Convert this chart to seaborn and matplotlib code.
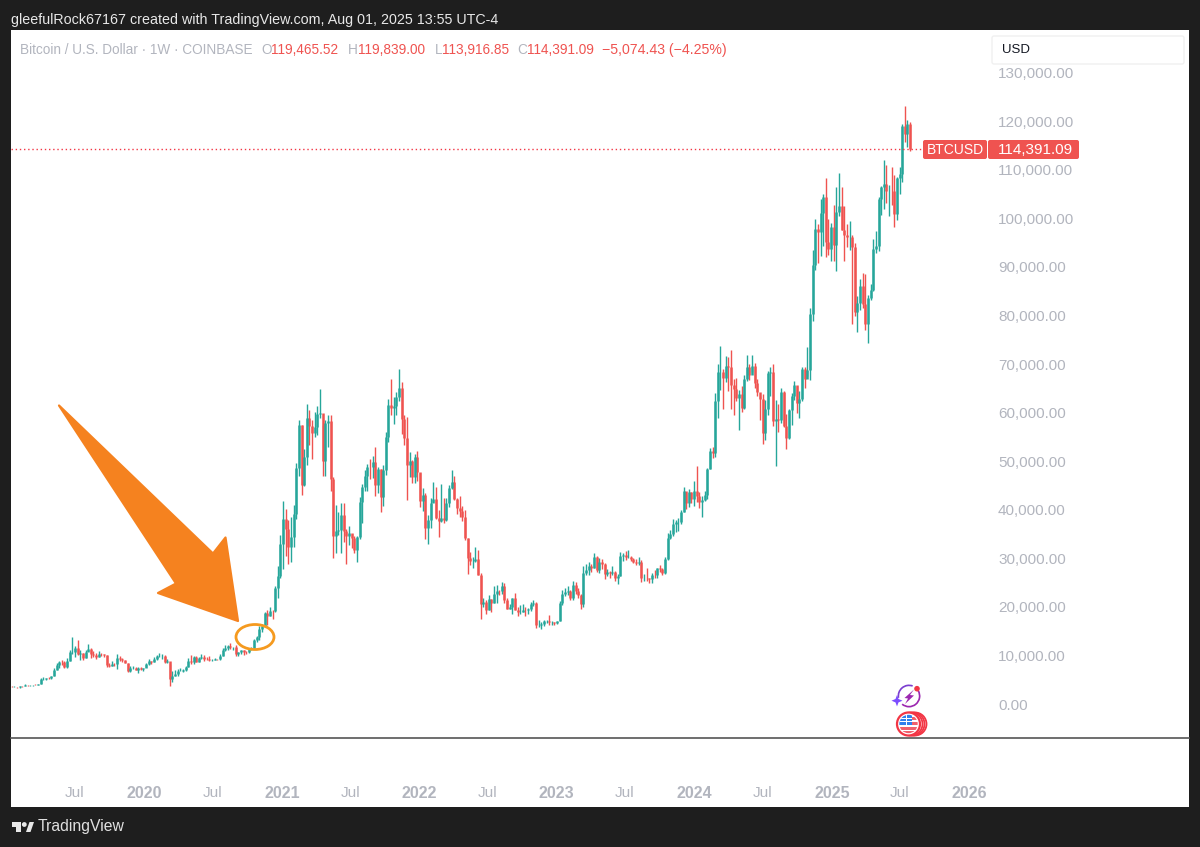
import numpy as np
import pandas as pd
import matplotlib
matplotlib.use("Agg")
import matplotlib.pyplot as plt
from matplotlib.patches import Ellipse, FancyBboxPatch, Polygon, Circle, Wedge, Rectangle
import seaborn as sns

# weekly BTCUSD candles, in thousands of dollars
close_2019 = [3.53, 3.53, 3.41, 3.66, 3.62, 3.83, 3.82, 3.92, 4.00, 3.98,
              4.10, 5.05, 5.07, 5.28, 5.27, 5.75, 6.98, 8.00, 8.75, 8.55,
              7.63, 8.90, 10.8, 10.8, 11.45, 10.2, 10.6, 9.5, 10.8, 11.3,
              10.3, 10.1, 9.75, 10.4, 10.3, 10.0, 8.05, 7.85, 8.3, 8.2,
              9.55, 9.2, 9.05, 8.5, 6.9, 7.4, 7.5, 7.1, 7.5, 7.3, 7.35]
high_2019 = [3.72, 3.63, 3.53, 3.69, 3.71, 4.20, 3.90, 3.94, 4.00, 4.05,
             4.15, 5.35, 5.47, 5.36, 5.65, 5.85, 7.40, 8.35, 8.95, 9.07,
             8.80, 9.40, 11.2, 13.88, 12.0, 13.2, 11.1, 10.6, 11.1, 12.3,
             11.5, 10.95, 10.6, 10.9, 10.45, 10.35, 10.05, 8.5, 8.8, 8.45,
             10.35, 9.95, 9.55, 9.05, 8.5, 7.85, 7.75, 7.55, 7.55, 7.7, 7.5]
low_2019 = [3.47, 3.46, 3.35, 3.37, 3.55, 3.61, 3.70, 3.67, 3.80, 3.95,
            3.90, 4.10, 4.92, 5.00, 5.05, 5.15, 5.70, 6.95, 7.50, 8.00,
            7.45, 7.50, 8.90, 10.3, 9.6, 10.1, 9.1, 9.1, 9.4, 11.0,
            9.5, 9.7, 9.3, 9.7, 9.9, 9.6, 7.7, 7.7, 7.8, 7.85,
            7.3, 8.95, 8.75, 8.35, 6.6, 6.5, 7.2, 7.0, 6.4, 7.1, 6.85]

close_2020 = [8.2, 8.9, 8.6, 9.35, 9.9, 9.9, 9.95, 8.6, 8.9, 5.2,
              5.8, 6.25, 6.8, 6.9, 7.1, 7.55, 8.9, 8.7, 9.7, 8.7,
              9.45, 9.65, 9.35, 9.3, 9.0, 9.05, 9.3, 9.2, 9.95, 11.1,
              11.55, 11.9, 11.65, 11.7, 10.3, 10.7, 11.1, 10.75, 10.65, 11.35,
              11.5, 13.1, 13.75, 15.5, 16.05, 18.7, 18.2, 19.15, 19.1, 23.85,
              26.4, 33.0]
high_2020 = [8.5, 9.2, 8.9, 9.6, 10.15, 10.5, 10.25, 10.0, 9.2, 8.2,
             6.9, 6.95, 7.3, 7.45, 7.3, 7.8, 9.5, 10.0, 9.95, 9.9,
             9.75, 10.4, 10.0, 9.6, 9.8, 9.3, 9.45, 9.35, 10.2, 11.45,
             12.05, 12.1, 12.5, 11.8, 12.05, 10.8, 11.2, 11.2, 10.95, 11.5,
             11.75, 13.3, 14.1, 16.0, 16.5, 18.95, 19.4, 19.9, 19.4, 24.3,
             28.4, 34.8]
low_2020 = [7.65, 8.1, 8.25, 8.55, 9.15, 9.7, 9.3, 8.5, 8.4, 3.8,
            4.45, 5.7, 5.85, 6.7, 6.5, 6.75, 7.6, 8.2, 8.2, 8.7,
            8.65, 9.3, 8.9, 9.05, 8.85, 8.9, 9.1, 9.0, 9.1, 9.9,
            11.0, 11.1, 11.4, 11.1, 9.9, 9.9, 10.2, 10.15, 10.4, 10.5,
            11.2, 11.4, 12.8, 13.2, 14.85, 15.8, 16.3, 18.1, 17.6, 19.0,
            21.9, 26.0]

close_2021 = [38.2, 36.0, 32.3, 34.3, 39.2, 48.6, 57.4, 45.2, 50.9, 59.0,
              57.3, 55.8, 57.1, 59.8, 60.0, 50.0, 57.8, 58.2, 46.4, 34.7,
              35.7, 35.8, 39.0, 35.6, 34.7, 35.3, 34.2, 31.8, 34.3, 41.5,
              44.6, 47.0, 48.9, 48.8, 49.9, 45.2, 48.3, 42.7, 48.2, 54.9,
              61.5, 60.9, 61.3, 63.3, 65.0, 58.6, 54.7, 49.3, 50.0, 46.8,
              50.8, 47.7]
high_2021 = [41.9, 40.1, 37.9, 38.5, 41.0, 49.7, 58.4, 57.5, 52.6, 61.8,
             60.5, 58.4, 60.2, 61.3, 64.9, 57.5, 58.5, 59.5, 59.6, 46.7,
             40.9, 39.5, 41.3, 41.3, 36.0, 36.6, 35.1, 34.7, 34.5, 42.6,
             45.3, 48.1, 49.4, 50.5, 51.0, 52.9, 48.8, 48.3, 49.2, 56.1,
             62.9, 67.0, 63.3, 64.2, 69.0, 66.3, 59.5, 59.2, 51.9, 50.3,
             51.5, 52.1]
low_2021 = [27.7, 30.4, 28.8, 29.2, 32.3, 38.0, 47.0, 43.0, 44.9, 49.3,
            53.3, 50.4, 55.0, 55.5, 59.0, 47.0, 47.0, 52.9, 43.8, 30.0,
            31.0, 34.8, 31.0, 33.4, 28.8, 32.7, 32.1, 31.0, 29.3, 34.0,
            37.3, 43.8, 43.9, 46.3, 46.5, 42.8, 43.4, 39.6, 40.7, 47.1,
            53.9, 59.5, 57.7, 59.5, 62.3, 55.6, 53.3, 42.0, 46.8, 45.5,
            45.6, 46.0]

close_2022 = [41.8, 43.1, 36.3, 37.9, 41.4, 42.2, 38.4, 37.7, 38.4, 37.8,
              41.3, 44.5, 45.8, 42.2, 40.4, 39.7, 38.5, 34.1, 30.1, 29.4,
              29.5, 29.9, 26.6, 20.6, 21.0, 19.3, 21.6, 20.8, 22.6, 23.3,
              23.2, 24.3, 21.5, 19.6, 20.0, 21.8, 19.4, 18.9, 19.0, 19.4,
              19.3, 19.6, 20.6, 20.9, 16.3, 16.3, 16.5, 17.1, 17.1, 16.8,
              16.8, 16.6]
high_2022 = [47.5, 44.4, 43.5, 38.9, 42.5, 45.8, 44.7, 40.0, 45.4, 42.5,
             42.4, 45.1, 48.2, 47.0, 42.4, 42.9, 40.8, 40.0, 34.2, 31.4,
             30.2, 32.4, 31.7, 26.9, 21.9, 21.5, 22.5, 21.6, 24.2, 24.6,
             23.4, 25.2, 25.0, 21.8, 20.6, 21.9, 22.8, 20.0, 20.4, 20.5,
             19.9, 19.7, 21.1, 21.4, 21.0, 17.2, 16.8, 17.4, 17.4, 18.4,
             17.0, 16.9]
low_2022 = [40.5, 39.7, 34.0, 32.9, 36.2, 41.7, 38.0, 34.3, 37.5, 37.2,
            37.6, 40.5, 44.2, 42.0, 39.2, 38.6, 37.7, 33.7, 26.7, 28.7,
            28.0, 29.3, 26.6, 17.6, 19.9, 18.6, 19.3, 18.9, 20.8, 20.7,
            22.4, 22.7, 20.8, 19.5, 19.5, 18.5, 19.3, 18.1, 18.5, 19.0,
            18.2, 18.6, 19.2, 20.1, 15.6, 15.8, 15.5, 16.0, 16.7, 16.3,
            16.3, 16.3]

close_2023 = [17.0, 20.9, 22.7, 23.0, 23.3, 21.9, 24.6, 23.2, 22.4, 20.5,
              26.9, 27.5, 28.5, 28.0, 30.3, 27.6, 29.2, 28.8, 26.8, 27.1,
              26.9, 27.1, 25.9, 26.3, 30.5, 30.6, 30.3, 30.3, 29.9, 29.3,
              29.0, 29.3, 26.0, 26.0, 25.9, 25.8, 26.6, 26.5, 28.0, 27.9,
              26.9, 29.9, 34.1, 35.0, 37.1, 37.4, 37.5, 39.5, 43.8, 41.4,
              43.6, 42.3]
high_2023 = [17.1, 21.3, 23.4, 23.8, 24.2, 23.4, 25.3, 25.2, 23.9, 22.6,
             28.5, 28.9, 29.2, 28.8, 31.0, 30.5, 30.0, 29.9, 29.1, 27.7,
             27.4, 28.4, 27.4, 26.8, 31.4, 31.0, 31.5, 31.8, 30.4, 30.0,
             29.9, 30.2, 29.7, 26.8, 28.1, 26.0, 27.0, 27.5, 28.1, 28.6,
             28.0, 30.2, 35.2, 35.9, 38.0, 37.9, 38.4, 39.9, 44.7, 43.5,
             44.3, 43.6]
low_2023 = [16.5, 17.1, 20.4, 22.3, 22.5, 21.4, 21.4, 22.7, 21.9, 19.6,
            20.0, 26.6, 26.5, 27.2, 28.0, 27.1, 26.9, 27.7, 25.8, 26.4,
            25.9, 26.5, 25.3, 24.8, 26.3, 29.5, 29.7, 30.0, 29.5, 29.0,
            28.6, 28.7, 25.2, 25.4, 25.3, 25.0, 24.9, 26.0, 26.0, 27.1,
            26.5, 26.8, 29.7, 33.9, 34.5, 35.5, 35.6, 37.0, 39.5, 40.2,
            40.5, 41.4]

close_2024 = [43.9, 42.8, 41.6, 42.0, 43.0, 48.3, 52.1, 51.7, 62.5, 68.4,
              68.4, 67.2, 69.6, 69.4, 65.6, 64.9, 63.1, 63.9, 61.0, 67.0,
              69.3, 67.8, 69.6, 66.2, 64.3, 62.8, 55.9, 60.8, 68.2, 68.3,
              58.2, 58.7, 58.5, 64.2, 57.3, 54.8, 60.5, 63.5, 65.6, 62.0,
              62.9, 69.0, 67.0, 68.7, 80.4, 90.5, 97.9, 97.2, 101.2, 104.5,
              95.2, 93.7, 98.3]
high_2024 = [45.9, 49.0, 43.6, 42.9, 43.9, 48.6, 52.8, 52.9, 64.0, 70.0,
             73.8, 68.9, 71.7, 71.4, 72.8, 66.9, 67.2, 64.7, 65.5, 67.7,
             71.9, 70.0, 71.9, 70.2, 66.9, 63.4, 63.8, 62.6, 68.5, 69.3,
             70.0, 62.7, 61.8, 65.0, 64.5, 59.8, 60.7, 64.1, 66.5, 65.5,
             64.4, 69.5, 69.5, 73.6, 81.5, 93.4, 99.8, 98.8, 104.0, 105.1,
             108.3, 99.9, 99.0]
low_2024 = [40.7, 41.5, 40.3, 38.5, 41.9, 42.3, 48.4, 50.6, 50.9, 59.0,
            64.6, 60.8, 66.4, 64.5, 60.7, 59.6, 62.4, 56.5, 60.2, 60.7,
            66.6, 66.7, 68.4, 65.0, 63.4, 58.4, 53.5, 54.3, 59.6, 63.5,
            57.2, 49.0, 56.1, 57.8, 57.1, 52.5, 54.6, 57.5, 62.6, 59.9,
            58.9, 62.5, 65.0, 67.5, 66.8, 78.8, 89.4, 90.8, 92.3, 94.3,
            92.1, 92.5, 91.3]

close_2025 = [94.5, 101.3, 102.6, 97.7, 96.5, 96.1, 96.2, 94.2, 80.7, 82.6,
              86.1, 82.4, 78.2, 83.7, 85.2, 93.7, 94.3, 104.1, 106.5, 107.1,
              105.6, 105.7, 105.6, 101.0, 108.3, 109.2, 119.1, 117.3, 119.47, 114.39]
high_2025 = [102.7, 106.4, 109.3, 106.4, 102.5, 98.8, 99.5, 96.5, 95.0, 84.0,
             87.5, 88.7, 88.5, 84.2, 86.4, 95.7, 97.4, 104.4, 106.7, 112.0,
             111.0, 106.8, 110.6, 108.9, 108.5, 110.6, 119.5, 123.2, 120.2, 119.84]
low_2025 = [91.2, 89.2, 100.5, 97.7, 91.2, 94.1, 93.4, 78.2, 80.0, 76.6,
            81.1, 81.6, 77.1, 74.4, 83.1, 85.0, 92.9, 93.3, 100.7, 102.0,
            103.1, 100.4, 102.8, 98.2, 99.6, 105.1, 107.5, 115.7, 114.7, 113.92]

first_open = 3.60

price_ticks = [130, 120, 110, 100, 90, 80, 70, 60, 50, 40, 30, 20, 10, 0]
price_labels = ["130,000.00", "120,000.00", "110,000.00", "100,000.00", "90,000.00",
                "80,000.00", "70,000.00", "60,000.00", "50,000.00", "40,000.00",
                "30,000.00", "20,000.00", "10,000.00", "0.00"]
time_ticks = ["2019-07-01", "2020-01-01", "2020-07-01", "2021-01-01", "2021-07-01",
              "2022-01-01", "2022-07-01", "2023-01-01", "2023-07-01", "2024-01-01",
              "2024-07-01", "2025-01-01", "2025-07-01", "2026-01-01"]
time_labels = ["Jul", "2020", "Jul", "2021", "Jul", "2022", "Jul", "2023", "Jul", "2024",
               "Jul", "2025", "Jul", "2026"]

GREEN = "#26a69a"
RED = "#ef5350"
GREY = "#b2b5be"
ORANGE = "#f5821f"

closes = close_2019 + close_2020 + close_2021 + close_2022 + close_2023 + close_2024 + close_2025
highs = high_2019 + high_2020 + high_2021 + high_2022 + high_2023 + high_2024 + high_2025
lows = low_2019 + low_2020 + low_2021 + low_2022 + low_2023 + low_2024 + low_2025

df = pd.DataFrame({"close": closes, "high": highs, "low": lows})
df["date"] = pd.date_range("2019-01-14", periods=len(df), freq="W-MON")
df["open"] = df["close"].shift(1).fillna(first_open)
df["dir"] = np.where(df["close"] >= df["open"], "up", "down")

# long form, two points per week, so lineplot draws one segment per candle
wicks = df.melt(id_vars=["date", "dir"], value_vars=["low", "high"], value_name="price")
bodies = df.melt(id_vars=["date", "dir"], value_vars=["open", "close"], value_name="price")

sns.set_theme(style="white")
plt.rcParams["font.family"] = ["Liberation Sans", "DejaVu Sans"]

fig = plt.figure(figsize=(12, 8.47), dpi=100, facecolor="#1e1e1e")

# white panel behind everything
bg = fig.add_axes([11 / 1200, 1 - 807 / 847, 1178 / 1200, 777 / 847], zorder=0)
bg.set_facecolor("white")
bg.set_xticks([])
bg.set_yticks([])
for s in bg.spines.values():
    s.set_visible(False)

ax = fig.add_axes([11 / 1200, 1 - 738 / 847, 1178 / 1200, 708 / 847], zorder=1)
sns.lineplot(data=wicks, x="date", y="price", hue="dir", units="date", estimator=None,
             palette={"up": GREEN, "down": RED}, legend=False, linewidth=1.0,
             solid_capstyle="butt", ax=ax)
sns.lineplot(data=bodies, x="date", y="price", hue="dir", units="date", estimator=None,
             palette={"up": GREEN, "down": RED}, legend=False, linewidth=1.8,
             solid_capstyle="butt", ax=ax)

ax.set_xlim(pd.Timestamp("2019-01-12"), pd.Timestamp("2027-08-08"))
ax.set_ylim(-7.0, 138.8)
ax.axhline(114.39, color="#f23645", lw=1.0, ls=(0, (1, 2)), xmax=912 / 1178)
ax.set_xlabel("")
ax.set_ylabel("")
ax.set_facecolor("none")

ax.yaxis.tick_right()
ax.set_yticks(price_ticks)
ax.set_yticklabels(price_labels)
ax.tick_params(axis="y", length=0, pad=-137.5, labelsize=11, labelcolor=GREY)
for lab in ax.get_yticklabels():
    lab.set_ha("left")

ax.set_xticks(pd.to_datetime(time_ticks))
ax.set_xticklabels(time_labels)
ax.tick_params(axis="x", length=0, pad=34.5, labelsize=11, labelcolor=GREY)
for lab in ax.get_xticklabels():
    if lab.get_text() != "Jul":
        lab.set_fontweight("bold")
        lab.set_fontsize(11.5)

for side in ["top", "left", "right"]:
    ax.spines[side].set_visible(False)
ax.spines["bottom"].set_color("#555555")
ax.spines["bottom"].set_linewidth(1.2)

# overlay in picture pixels for the drawn annotations and the header
ov = fig.add_axes([0, 0, 1, 1], zorder=2)
ov.set_xlim(0, 1200)
ov.set_ylim(847, 0)
ov.axis("off")

ov.text(11, 20, "gleefulRock67167 created with TradingView.com, Aug 01, 2025 13:55 UTC-4",
        color="#e8e8e8", fontsize=10.25, va="center")

legend_parts = [("Bitcoin / U.S. Dollar · 1W · COINBASE", GREY, 20), ("O", GREY, 261), ("119,465.52", RED, 271),
                ("H", GREY, 348), ("119,839.00", RED, 358), ("L", GREY, 435), ("113,916.85", RED, 442),
                ("C", GREY, 517), ("114,391.09", RED, 527)]
for txt, col, sx in legend_parts:
    ov.text(sx, 50, txt, color=col, fontsize=9.8, va="center")
ov.text(602, 50, "−5,074.43 (−4.25%)", color=RED, fontsize=10.2, va="center")

# currency box
ov.add_patch(FancyBboxPatch((992, 36), 192, 28, boxstyle="round,pad=0,rounding_size=2",
                            fc="white", ec="#f0f0f0", lw=1))
ov.text(1002, 50, "USD", color="#131722", fontsize=9.5, va="center")

# last price tag
ov.add_patch(FancyBboxPatch((923, 140), 64, 19, boxstyle="round,pad=0,rounding_size=2", fc=RED, ec="none"))
ov.add_patch(FancyBboxPatch((988, 140), 91, 19, boxstyle="round,pad=0,rounding_size=2", fc=RED, ec="none"))
ov.text(955, 150, "BTCUSD", color="white", fontsize=10, ha="center", va="center")
ov.text(1035, 150, "114,391.09", color="white", fontsize=11, ha="center", va="center")

# hand drawn arrow and ring
arrow = Polygon([(59, 405.5), (213, 553.5), (225.5, 537.5), (238, 621), (158, 593), (176, 583.5)],
                closed=True, fc=ORANGE, ec=ORANGE, lw=1.6, joinstyle="round", zorder=3)
ov.add_patch(arrow)
ov.add_patch(Ellipse((255, 637), 38, 25, fc="none", ec="#f59a1f", lw=2, zorder=3))

# event icons
ov.add_patch(Wedge((909, 696), 11.5, -30, 130, width=1.7, fc="#9c27b0", ec="none"))
ov.add_patch(Wedge((909, 696), 11.5, 170, 290, width=1.7, fc="#7b3fd0", ec="none"))
ov.add_patch(Polygon([(914, 689.5), (904.5, 698), (908, 698.5), (905, 704), (914, 695.5), (910, 695)],
                     fc="#9c27b0", ec="none"))
ov.add_patch(Polygon([(897, 695), (898.5, 699), (902.5, 700.7), (898.5, 702.4), (897, 706.4), (895.5, 702.4),
                      (891.5, 700.7), (895.5, 699)], fc="#7c4dff", ec="none"))
ov.add_patch(Circle((917, 688.7), 2.8, fc="#f23645", ec="none"))
for cx in (915, 913, 911):
    ov.add_patch(Circle((cx, 724), 11.5, fc="white", ec="#f23645", lw=1.3))
ring = Circle((908.5, 724), 11.5, fc="white", ec="#f23645", lw=1.6)
ov.add_patch(ring)
clip = Circle((908.5, 724), 9.2, transform=ov.transData)
flag = [Rectangle((912, 717), 10, 2.6, fc="#f0616d", ec="none"),
        Rectangle((912, 722), 10, 2.6, fc="#f0616d", ec="none"),
        Rectangle((898, 727), 22, 2.6, fc="#f0616d", ec="none"),
        Rectangle((898, 731.5), 22, 2.6, fc="#f0616d", ec="none"),
        Rectangle((899, 714), 13, 11, fc="#2f80ed", ec="none"),
        Rectangle((902.5, 714), 0.9, 11, fc="white", ec="none"),
        Rectangle((906, 714), 0.9, 11, fc="white", ec="none"),
        Rectangle((909.5, 714), 0.9, 11, fc="white", ec="none"),
        Rectangle((899, 718.5), 13, 0.9, fc="white", ec="none"),
        Rectangle((899, 721.5), 13, 0.9, fc="white", ec="none")]
for piece in flag:
    ov.add_patch(piece)
    piece.set_clip_path(clip)

# footer logo
ov.add_patch(Polygon([(12, 822), (21, 822), (21, 832), (16, 832), (16, 827), (12, 827)], fc="#e8e8e8", ec="none"))
ov.add_patch(Circle((24.3, 824.5), 2.4, fc="#e8e8e8", ec="none"))
ov.add_patch(Polygon([(26, 832), (29.5, 822), (34, 822), (30.5, 832)], fc="#e8e8e8", ec="none"))
ov.text(38, 827, "TradingView", color="#e0e0e0", fontsize=11.3, va="center")

fig.savefig("out.png", dpi=100, facecolor=fig.get_facecolor())
